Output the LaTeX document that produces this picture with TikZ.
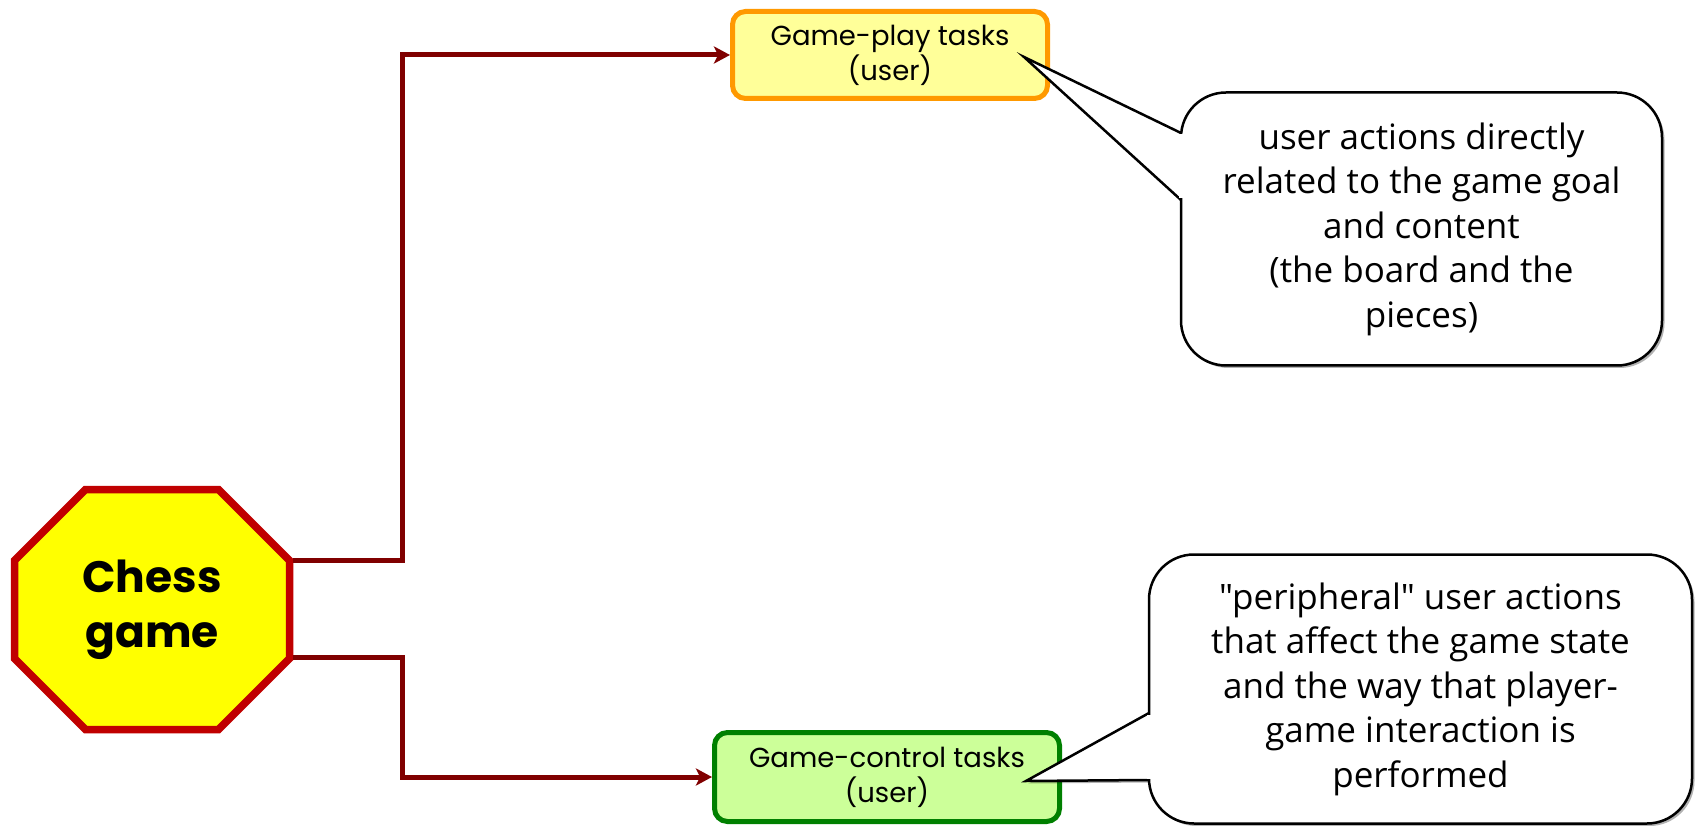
\documentclass[tikz,border=0pt]{standalone}
\usepackage{fontspec}
\setmainfont{Poppins}
\newfontfamily\calfont{Open Sans}
\usetikzlibrary{arrows.meta,shadows,calc,backgrounds}
\definecolor{darkred}{HTML}{800000}
\definecolor{octred}{HTML}{C00000}
\definecolor{octyellow}{HTML}{FFFF00}
\definecolor{orangeC}{HTML}{FF9900}
\definecolor{yellowL}{HTML}{FFFF99}
\definecolor{greenC}{HTML}{008000}
\definecolor{greenL}{HTML}{CCFF99}
\begin{document}
\begin{tikzpicture}[x=1pt,y=-1pt,
  conn/.style={draw=darkred, line width=5pt, -{Stealth[length=16pt,width=17pt,inset=4pt]}},
  taskbox/.style={rounded corners=13pt, line width=5pt, align=center, inner sep=0pt,
    font=\fontsize{27.5}{35}\selectfont},
  playbox/.style={taskbox, draw=orangeC, fill=yellowL, minimum width=315pt, minimum height=87pt},
  ctrlbox/.style={taskbox, draw=greenC, fill=greenL, minimum width=345pt, minimum height=89pt},
  chessbox/.style={minimum width=275pt, minimum height=240pt, inner sep=0pt, outer sep=0pt,
    align=center, font=\bfseries\fontsize{44}{55}\selectfont},
  octo/.style={draw=octred, fill=octyellow, line width=7.5pt, line join=miter},
  shade/.style={drop shadow={shadow xshift=2.5pt, shadow yshift=-2.5pt, opacity=0.3, fill=black}},
  bubble/.style={draw=black, fill=white, line width=2.5pt, rounded corners=45pt, align=center,
    inner sep=0pt, font=\calfont\fontsize{35}{44.5}\selectfont, shade},
  tailshape/.style={draw=black, fill=white, line width=2.5pt, line join=miter, shade}
]
\useasboundingbox (0,0) rectangle (1701,826);

% main node
\node[chessbox] (chess) at (152,609.5) {Chess\\game};
\begin{scope}[on background layer]
\draw[octo] ($(chess.north west)+(71,0)$) -- ($(chess.north east)+(-71,0)$)
  -- ($(chess.north east)+(0,71)$) -- ($(chess.south east)+(0,-71)$)
  -- ($(chess.south east)+(-71,0)$) -- ($(chess.south west)+(71,0)$)
  -- ($(chess.south west)+(0,-71)$) -- ($(chess.north west)+(0,71)$) -- cycle;
\end{scope}

% task boxes
\node[playbox] (play) at (890,55) {Game-play tasks\\(user)};
\node[ctrlbox] (ctrl) at (887,777) {Game-control tasks\\(user)};

% connectors
\draw[conn] ([xshift=3.5pt,yshift=49.5pt]chess.east) -- ++(109,0) |- (play.west);
\draw[conn] ([xshift=3.5pt,yshift=-47.5pt]chess.east) -- ++(109,0) |- (ctrl.west);

% callout 1
\coordinate (tip1) at (1024,57);
\coordinate (b1a) at (1181,133);
\coordinate (b1b) at (1181,200);
\draw[tailshape] (tip1) -- (b1a) -- (b1b) -- cycle;
\node[bubble, minimum width=481pt, minimum height=273pt] (note1) at (1421.5,229)
  {user actions directly\\related to the game goal\\and content\\(the board and the\\pieces)};
\fill[white] ($(b1a)+(-2,1.5)$) rectangle ($(b1b)+(2,-1.5)$);

% callout 2
\coordinate (tip2) at (1026,781);
\coordinate (b2a) at (1149,713);
\coordinate (b2b) at (1149,780);
\draw[tailshape] (tip2) -- (b2a) -- (b2b) -- cycle;
\node[bubble, minimum width=543pt, minimum height=269pt] (note2) at (1420.5,689)
  {"peripheral" user actions\\that affect the game state\\and the way that player-\\game interaction is\\performed};
\fill[white] ($(b2a)+(-2,1.5)$) rectangle ($(b2b)+(2,-1.5)$);
\end{tikzpicture}
\end{document}
